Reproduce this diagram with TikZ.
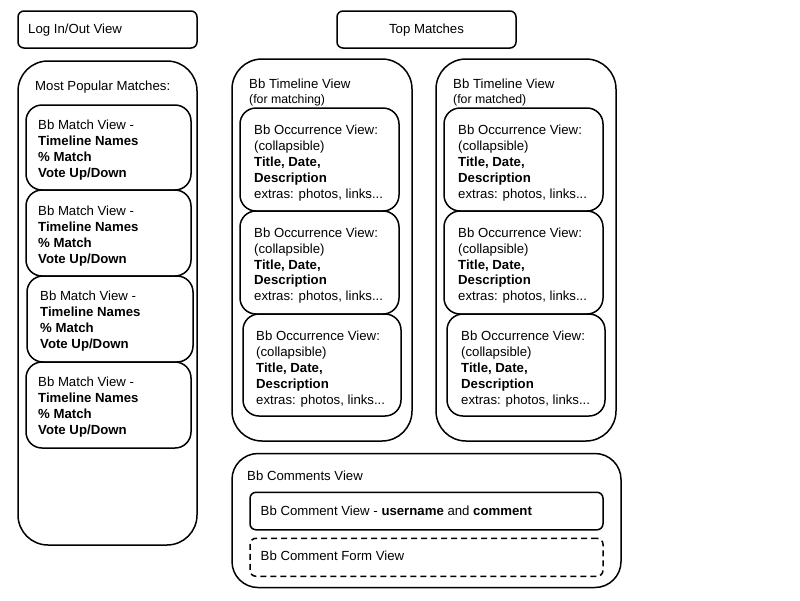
\documentclass[tikz,border=0pt]{standalone}
\usepackage{fontspec}
\setmainfont{Liberation Sans}
\begin{document}
\begin{tikzpicture}[x=1pt,y=-1pt,
  box/.style={draw=black, line width=1.5pt, fill=white, anchor=north west, inner sep=0pt, outer sep=0pt},
  lbl/.style={anchor=north west, inner sep=0pt, align=left, font=\fontsize{13.2}{15.9}\selectfont},
  one/.style={anchor=base west, inner sep=0pt, font=\fontsize{13.2}{15.9}\selectfont},
  sub/.style={anchor=base west, inner sep=0pt, font=\fontsize{12.3}{14}\selectfont},
  bigr/.style={rounded corners=30pt},
  midr/.style={rounded corners=16pt},
  smr/.style={rounded corners=6pt}]
\useasboundingbox[fill=white] (0,0) rectangle (800,600);

% top boxes
\node[box,smr,minimum width=179pt,minimum height=37pt] (login) at (18,11) {};
\node[one] (logintxt) at (28,33.8) {Log In/Out View};
\node[box,smr,minimum width=179pt,minimum height=37pt] (top) at (337,11) {};
\node[anchor=base,inner sep=0pt,font=\fontsize{13.2}{15.9}\selectfont] (toptxt) at (426.5,33.8) {Top Matches};

% most popular matches
\node[box,bigr,minimum width=179pt,minimum height=484pt] (pop) at (18,61) {};
\node[one] (poptxt) at (35,90.8) {Most Popular Matches:};
\node[box,midr,minimum width=165pt,minimum height=85pt] (m1) at (26,105) {};
\node[box,midr,minimum width=165pt,minimum height=86pt] (m2) at (26,190) {};
\node[box,midr,minimum width=166pt,minimum height=86pt] (m3) at (27,276) {};
\node[box,midr,minimum width=165pt,minimum height=86pt] (m4) at (26,362) {};
\node[lbl] (m1t) at (38,120.2) {Bb Match View -\\\textbf{Timeline Names}\\\textbf{\% Match}\\\textbf{Vote Up/Down}};
\node[lbl] (m2t) at (38,205.7) {Bb Match View -\\\textbf{Timeline Names}\\\textbf{\% Match}\\\textbf{Vote Up/Down}};
\node[lbl] (m3t) at (40,291.2) {Bb Match View -\\\textbf{Timeline Names}\\\textbf{\% Match}\\\textbf{Vote Up/Down}};
\node[lbl] (m4t) at (38,377.2) {Bb Match View -\\\textbf{Timeline Names}\\\textbf{\% Match}\\\textbf{Vote Up/Down}};

% timeline 1
\node[box,bigr,minimum width=180pt,minimum height=382pt] (tl1) at (232,59) {};
\node[one] (tl1t) at (249,88) {Bb Timeline View};
\node[sub] (tl1s) at (249,103.5) {(for matching)};
\node[box,midr,minimum width=159pt,minimum height=103pt] (o11) at (240,108) {};
\node[box,midr,minimum width=159pt,minimum height=103pt] (o12) at (240,211) {};
\node[box,midr,minimum width=158pt,minimum height=102pt] (o13) at (243,314) {};
\node[lbl] (o11t) at (254,125.2) {Bb Occurrence View:\\(collapsible)\\\textbf{Title, Date,}\\\textbf{Description}\\extras: photos, links...};
\node[lbl] (o12t) at (254,227.5) {Bb Occurrence View:\\(collapsible)\\\textbf{Title, Date,}\\\textbf{Description}\\extras: photos, links...};
\node[lbl] (o13t) at (256,330.9) {Bb Occurrence View:\\(collapsible)\\\textbf{Title, Date,}\\\textbf{Description}\\extras: photos, links...};

% timeline 2
\node[box,bigr,minimum width=180pt,minimum height=382pt] (tl2) at (436,59) {};
\node[one] (tl2t) at (453,88) {Bb Timeline View};
\node[sub] (tl2s) at (453,103.5) {(for matched)};
\node[box,midr,minimum width=159pt,minimum height=103pt] (o21) at (444,108) {};
\node[box,midr,minimum width=159pt,minimum height=103pt] (o22) at (444,211) {};
\node[box,midr,minimum width=158pt,minimum height=102pt] (o23) at (447,314) {};
\node[lbl] (o21t) at (458,125.2) {Bb Occurrence View:\\(collapsible)\\\textbf{Title, Date,}\\\textbf{Description}\\extras: photos, links...};
\node[lbl] (o22t) at (458,227.5) {Bb Occurrence View:\\(collapsible)\\\textbf{Title, Date,}\\\textbf{Description}\\extras: photos, links...};
\node[lbl] (o23t) at (461,330.9) {Bb Occurrence View:\\(collapsible)\\\textbf{Title, Date,}\\\textbf{Description}\\extras: photos, links...};

% comments
\node[box,rounded corners=26pt,minimum width=389pt,minimum height=134pt] (comm) at (232,453.5) {};
\node[one] (commt) at (247,480.8) {Bb Comments View};
\node[box,smr,minimum width=353pt,minimum height=37.5pt] (cv) at (250,492.3) {};
\node[one] (cvt) at (260.5,515.5) {Bb Comment View - \textbf{username} and \textbf{comment}};
\node[box,smr,dash pattern=on 6pt off 4pt,minimum width=353pt,minimum height=38pt] (cf) at (250,538.3) {};
\node[one] (cft) at (260.5,560.8) {Bb Comment Form View};
\end{tikzpicture}
\end{document}
